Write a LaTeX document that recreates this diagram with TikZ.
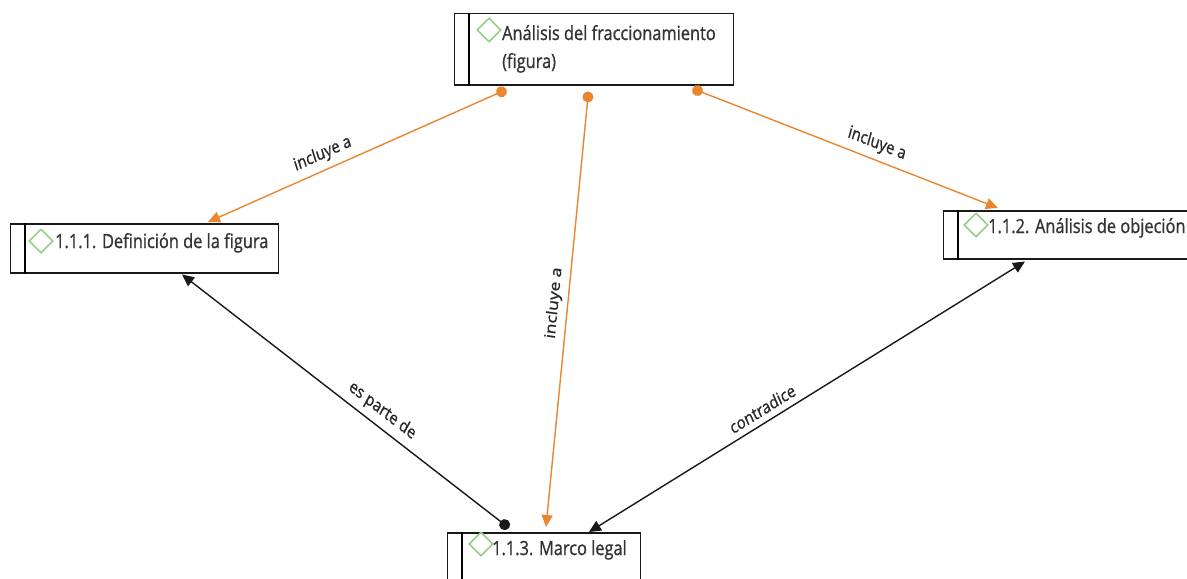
\documentclass[tikz,border=0pt]{standalone}
\usepackage{fontspec}
\setmainfont{Open Sans}[FakeBold=1.0]
\usetikzlibrary{arrows.meta,calc,shapes.geometric}
\definecolor{linkorange}{HTML}{EA8630}
\definecolor{codegreen}{HTML}{95CF85}
\definecolor{textgray}{HTML}{333333}

\begin{document}
\begin{tikzpicture}[x=1.190476pt, y=-1pt, xscale=0.84, transform shape,
  conceptbox/.style={draw=black!90, line width=1.5pt, rectangle, inner sep=0pt, anchor=north west},
  codemark/.style={diamond, draw=codegreen, line width=1.5pt, inner sep=0pt,
    minimum width=28.6pt, minimum height=24pt, aspect=1.19},
  conceptlabel/.style={anchor=base west, inner sep=0pt, text=textgray,
    font=\fontsize{19.5}{28}\selectfont, align=left},
  tips/.style={arrows={Circle[length=11pt]-Triangle[length=12pt,width=11pt]}},
  orangelink/.style={draw=linkorange, line width=1.4pt, tips},
  blacklink/.style={draw=black!90, line width=1.4pt},
  linklabel/.style={font=\fontsize{17.5}{20}\selectfont, text=black!85, inner sep=6.5pt, anchor=south}
]
\useasboundingbox (0,0) rectangle (1187,578);
\fill[white] (0,0) rectangle (1187,578);

% concept boxes
\node[conceptbox, minimum width=332.1pt, minimum height=71pt] (top) at (454,13) {};
\node[conceptbox, minimum width=319.0pt, minimum height=49pt] (def) at (10,223) {};
\node[conceptbox, minimum width=297.6pt, minimum height=48pt] (obj) at (943,210) {};
\node[conceptbox, minimum width=229.8pt, minimum height=60pt] (marco) at (447,532) {};

% left divider stripe of each box
\foreach \n in {top,def,obj,marco}
  \draw[line width=1.5pt] ($(\n.north west)+(15,0)$) -- ($(\n.south west)+(15,0)$);

% code markers
\node[codemark] (topD) at (489,30) {};
\node[codemark] (defD) at (41,241) {};
\node[codemark] (objD) at (976,225) {};
\node[codemark] (marcoD) at (481,544) {};

% concept names (a two-line name sits on the baseline of its last line)
\node[conceptlabel] (topT) at (502,68) {Análisis del fraccionamiento\\(figura)};
\node[conceptlabel] (defT) at (55,248) {1.1.1. Definición de la figura};
\node[conceptlabel] (objT) at (988,233) {1.1.2. Análisis de objeción};
\node[conceptlabel] (marcoT) at (492,555) {1.1.3. Marco legal};

% links
\draw[orangelink] ($(top.south west)+(52.5,4)$)
  -- node[linklabel, pos=0.6, rotate=20.7] (l1) {incluye a} ($(def.north west)+(198,-1)$);
\draw[orangelink] ($(top.south west)+(134.5,6)$)
  -- node[linklabel, pos=0.49, rotate=83.4] (l2) {incluye a} ($(marco.north west)+(99,-5)$);
\draw[orangelink] ($(top.south west)+(238.4,3)$)
  -- node[linklabel, pos=0.59, rotate=-18.4] (l3) {incluye a} ($(obj.north west)+(55,-2)$);
\draw[blacklink, tips]
  ($(marco.north west)+(62,-4)$)
  -- node[linklabel, pos=0.41, rotate=-33.2] (l4) {es parte de} ($(def.south west)+(172,1)$);
\draw[blacklink, arrows={Triangle[length=12pt,width=11pt]-Triangle[length=12pt,width=11pt]}]
  ($(marco.north west)+(142,0)$)
  -- node[linklabel, pos=0.41, rotate=27.7] (l5) {contradice} ($(obj.south west)+(82,2)$);
\end{tikzpicture}
\end{document}
